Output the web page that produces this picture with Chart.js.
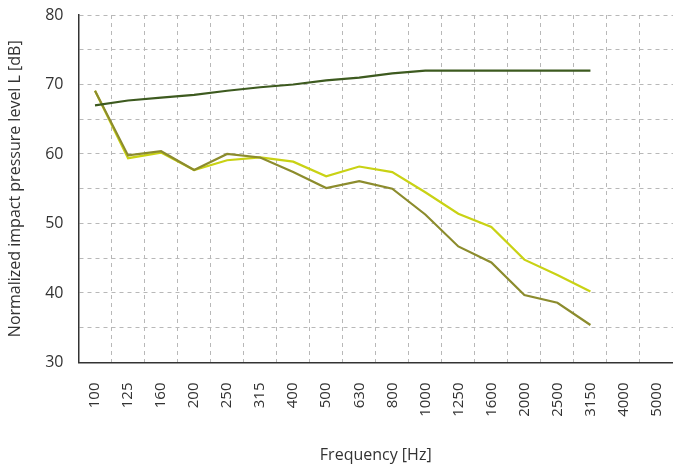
<!DOCTYPE html>
<html>
<head>
<meta charset="utf-8">
<script src="https://cdn.jsdelivr.net/npm/chart.js@4"></script>
<style>
  html, body { margin: 0; padding: 0; background: #fff; }
  #grafico { display: block; }
</style>
</head>
<body>
<canvas id="grafico" width="673" height="467"></canvas>
<script>
// Bandas de frecuencia (Hz)
var frecuencias = ['100', '125', '160', '200', '250', '315', '400', '500', '630', '800',
  '1000', '1250', '1600', '2000', '2500', '3150', '4000', '5000'];

// Curva de referencia (verde oscuro)
var referencia = [67.0, 67.7, 68.1, 68.5, 69.1, 69.6, 70.0, 70.6, 71.0, 71.6,
  72.0, 72.0, 72.0, 72.0, 72.0, 72.0, null, null];

// Medición 1 (oliva)
var medicion1 = [69.1, 59.8, 60.4, 57.7, 60.0, 59.5, 57.4, 55.1, 56.1, 55.0,
  51.3, 46.7, 44.4, 39.7, 38.6, 35.4, null, null];

// Medición 2 (amarillo)
var medicion2 = [69.1, 59.4, 60.2, 57.7, 59.1, 59.5, 58.9, 56.8, 58.2, 57.4,
  54.5, 51.4, 49.5, 44.8, 42.6, 40.2, null, null];

var fuente = '"Open Sans", "DejaVu Sans", sans-serif';

var ctx = document.getElementById('grafico').getContext('2d');

var grafico = new Chart(ctx, {
  type: 'line',
  data: {
    labels: frecuencias,
    datasets: [
      { data: referencia, borderColor: '#3d5a1f', borderWidth: 2.2, pointRadius: 0, tension: 0 },
      { data: medicion1, borderColor: '#8c8c2d', borderWidth: 2.2, pointRadius: 0, tension: 0 },
      { data: medicion2, borderColor: '#c9d214', borderWidth: 2.2, pointRadius: 0, tension: 0 }
    ]
  },
  options: {
    responsive: false,
    animation: false,
    layout: { padding: { top: 15, right: 0, bottom: 2, left: 6 } },
    plugins: {
      legend: { display: false },
      tooltip: { enabled: false }
    },
    scales: {
      x: {
        offset: true,
        grid: { offset: true, color: '#b8b8b8', lineWidth: 1, drawTicks: false },
        border: { display: true, color: '#333', width: 1.5, dash: [4, 4] },
        ticks: {
          minRotation: 90, maxRotation: 90, autoSkip: false, padding: 20,
          color: '#333', font: { family: fuente, size: 15 }
        },
        title: {
          display: true, text: 'Frequency [Hz]', color: '#333',
          font: { family: fuente, size: 16 }, padding: { top: 9, bottom: 0 }
        },
        // sin margen extra a la derecha
        afterFit: function(escala) { escala.paddingRight = 0; }
      },
      y: {
        min: 30, max: 80,
        grid: { color: '#b8b8b8', lineWidth: 1, drawTicks: false },
        border: { display: true, color: '#333', width: 1.5, dash: [4, 4] },
        ticks: {
          stepSize: 5, padding: 15, color: '#333',
          font: { family: fuente, size: 16 },
          callback: function(v) { return v % 10 === 0 ? v : ''; }
        },
        title: {
          display: true, text: 'Normalized impact pressure level L [dB]', color: '#333',
          font: { family: fuente, size: 16 }, padding: { top: 0, bottom: 5 }
        },
        afterFit: function(escala) { escala.paddingTop = 0; }
      }
    }
  }
});
</script>
</body>
</html>
